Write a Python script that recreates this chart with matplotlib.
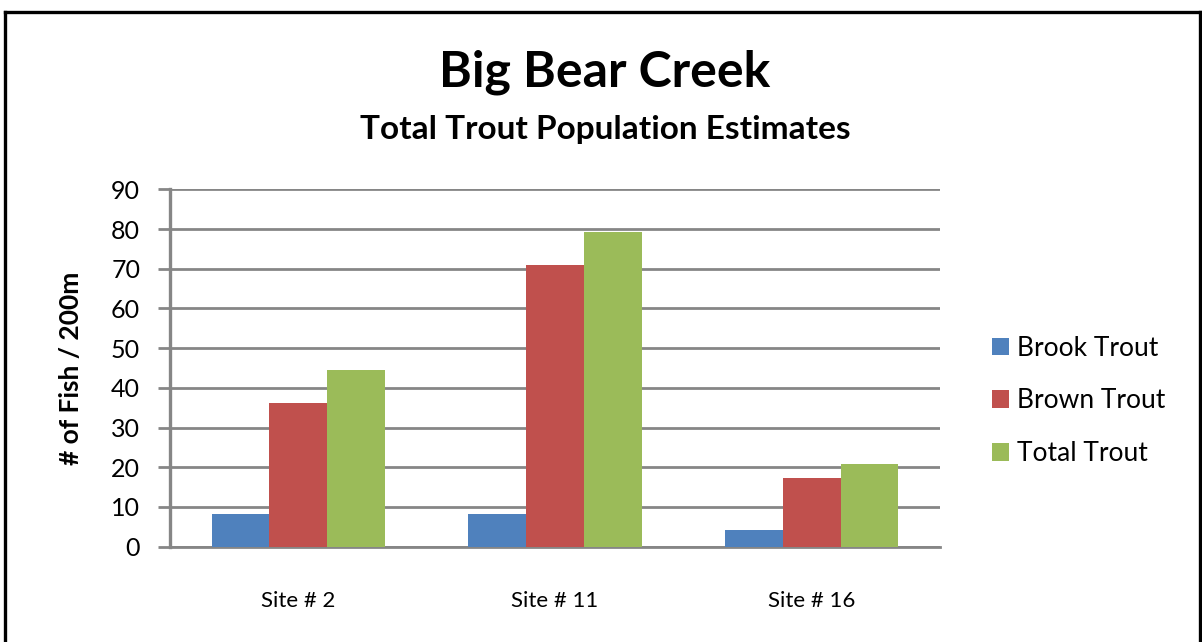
import matplotlib.pyplot as plt
import numpy as np
from matplotlib.lines import Line2D

sites = ['Site # 2', 'Site # 11', 'Site # 16']
brook = [8.2, 8.2, 4.2]
brown = [36.2, 71.0, 17.3]
total = [44.5, 79.2, 20.8]
series = [('Brook Trout', brook, '#4f81bd'),
          ('Brown Trout', brown, '#c0504d'),
          ('Total Trout', total, '#9bbb59')]

plt.rcParams['font.family'] = ['Lato', 'DejaVu Sans']

fig = plt.figure(figsize=(12.02, 6.42), dpi=100)
W, H = 1202, 642
ax = fig.add_axes([170 / W, 1 - 546.7 / H, (940 - 170) / W, (546.7 - 189.3) / H])

x = np.arange(len(sites))
bw = 0.225
for i, (name, vals, col) in enumerate(series):
    ax.bar(x + (i - 1) * bw, vals, width=bw, color=col, label=name, zorder=3)

ax.set_xlim(-0.5, 2.5)
ax.set_ylim(0, 90)
ax.set_yticks(range(0, 91, 10))
ax.yaxis.grid(True, color='#868686', linewidth=2.0, zorder=0)
ax.set_xticks(x)
ax.set_xticklabels(sites, fontsize=16)
ax.tick_params(axis='x', length=0, pad=32)
ax.tick_params(axis='y', length=8.5, width=2.0, color='#868686', labelsize=18, pad=13)
for s in ['top', 'right']:
    ax.spines[s].set_visible(False)
ax.spines['left'].set_color('#868686')
ax.spines['left'].set_linewidth(2.4)
ax.spines['bottom'].set_color('#868686')
ax.spines['bottom'].set_linewidth(2.0)
ax.set_ylabel('# of Fish / 200m', fontsize=19, fontweight='bold', labelpad=20)

fig.text(605 / W, 1 - 72 / H, 'Big Bear Creek', ha='center', va='center',
         fontsize=36, fontweight='bold')
fig.text(605 / W, 1 - 130 / H, 'Total Trout Population Estimates', ha='center',
         va='center', fontsize=24, fontweight='bold')

fig.legend(loc='center left', bbox_to_anchor=(968 / W, 1 - 401 / H), frameon=False,
           fontsize=19, handlelength=0.65, handleheight=0.65, handletextpad=0.3,
           labelspacing=1.05)

# outer border
lw = 2.4
fig.add_artist(Line2D([4.5 / W, 4.5 / W], [0, 1 - 12 / H], transform=fig.transFigure, color='black', lw=lw))
fig.add_artist(Line2D([4.5 / W, 1199.5 / W], [1 - 12 / H, 1 - 12 / H], transform=fig.transFigure, color='black', lw=lw))
fig.add_artist(Line2D([1199.5 / W, 1199.5 / W], [0, 1 - 12 / H], transform=fig.transFigure, color='black', lw=lw))

fig.savefig('out.png', dpi=100)
